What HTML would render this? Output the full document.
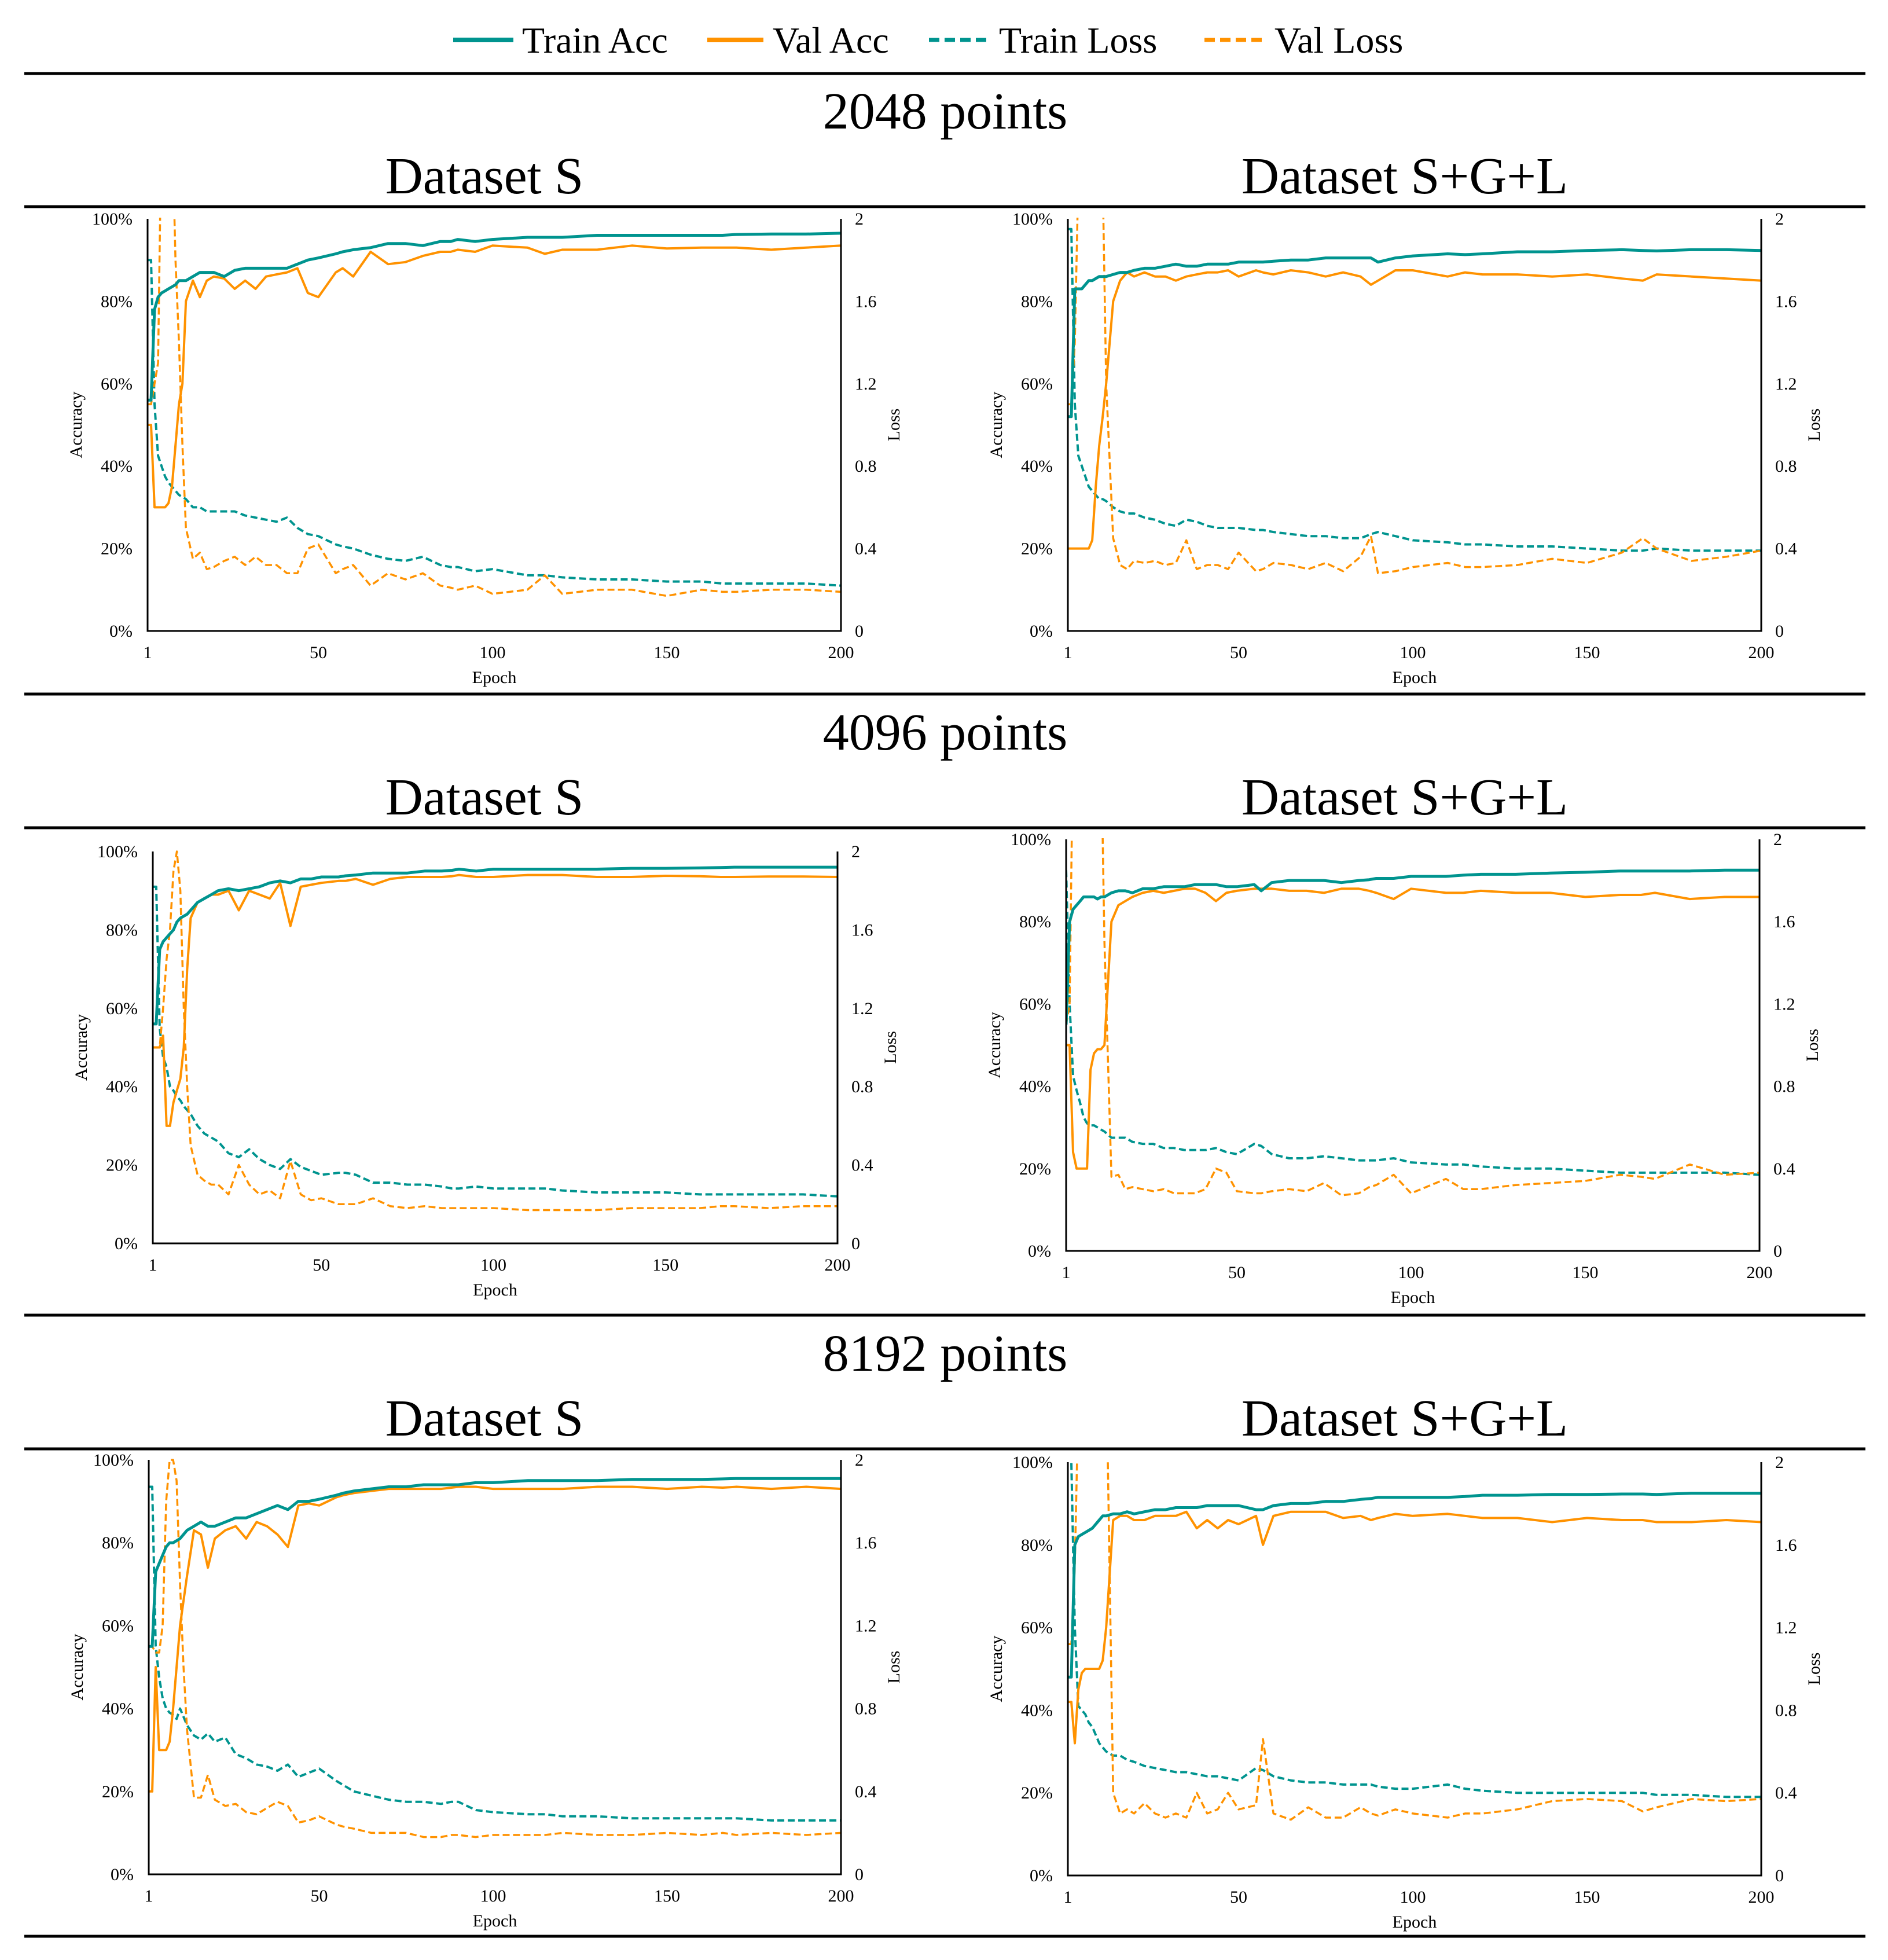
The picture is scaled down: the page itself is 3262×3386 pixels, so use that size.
<!DOCTYPE html>
<html><head><meta charset="utf-8">
<style>
html,body{margin:0;padding:0;background:#fff;}
svg{display:block;font-family:"Liberation Serif",serif;}
</style></head>
<body>
<svg id="fig" width="3262" height="3386" viewBox="0 0 3262 3386" xmlns="http://www.w3.org/2000/svg">
<rect width="3262" height="3386" fill="#fff"/>
<g id="legend">
 <g><line x1="783" y1="69" x2="887" y2="69" stroke="#00948F" stroke-width="8"/><text x="902" y="91" font-size="64">Train Acc</text></g>
 <g><line x1="1222" y1="69" x2="1319" y2="69" stroke="#FF9200" stroke-width="8"/><text x="1335" y="91" font-size="64">Val Acc</text></g>
 <g><line x1="1605" y1="69" x2="1709" y2="69" stroke="#00948F" stroke-width="7" stroke-dasharray="18 9"/><text x="1726" y="91" font-size="64">Train Loss</text></g>
 <g><line x1="2081" y1="69" x2="2185" y2="69" stroke="#FF9200" stroke-width="7" stroke-dasharray="18 9"/><text x="2202" y="91" font-size="64">Val Loss</text></g>
</g>
<g id="charts"></g>
</svg>
<script>
const epochs = [1,2,3,4,5,6,7,8,9,10,11,12,14,16,18,20,23,26,29,32,35,38,41,44,47,50,55,57,60,65,70,75,80,85,88,90,95,100,110,115,120,130,140,150,160,166,170,180,190,200];
const accTicks = ["0%","20%","40%","60%","80%","100%"];
const lossTicks = ["0","0.4","0.8","1.2","1.6","2"];
const epochTicks = [1,50,100,150,200];
const sectionTitles = ["2048 points","4096 points","8192 points"];
const datasetTitles = ["Dataset S","Dataset S+G+L"];

const c1TrainAcc = [56,56,78,81,82,82.5,83,83.5,84,85,85,85,86,87,87,87,86,87.5,88,88,88,88,88,89,90,90.5,91.5,92,92.5,93,94,94,93.5,94.5,94.5,95,94.5,95,95.5,95.5,95.5,96,96,96,96,96,96.2,96.3,96.3,96.5];
const c1ValAcc = [50,50,30,30,30,30,31,35,45,55,60,80,85,81,85,86,85.5,83,85,83,86,86.5,87,88,82,81,87,88,86,92,89,89.5,91,92,92,92.5,92,93.5,93,91.5,92.5,92.5,93.5,92.8,93,93,93,92.5,93,93.5];
const c1TrainLoss = [1.8,1.8,1.1,0.85,0.8,0.75,0.72,0.7,0.68,0.66,0.65,0.64,0.6,0.6,0.58,0.58,0.58,0.58,0.56,0.55,0.54,0.53,0.55,0.5,0.47,0.46,0.42,0.41,0.4,0.37,0.35,0.34,0.36,0.32,0.31,0.31,0.29,0.3,0.27,0.27,0.26,0.25,0.25,0.24,0.24,0.23,0.23,0.23,0.23,0.22];
const c1ValLoss = [1.1,1.1,1.2,1.3,2.5,2.5,2.5,2.5,1.8,1.4,0.9,0.5,0.35,0.38,0.3,0.31,0.34,0.36,0.32,0.36,0.32,0.32,0.28,0.28,0.4,0.42,0.28,0.3,0.32,0.22,0.28,0.25,0.28,0.22,0.21,0.2,0.22,0.18,0.2,0.27,0.18,0.2,0.2,0.17,0.2,0.19,0.19,0.2,0.2,0.19];

const c2TrainAcc = [52,52,83,83,83,84,85,85,85.5,86,86,86,86.5,87,87,87.5,88,88,88.5,89,88.5,88.5,89,89,89,89.5,89.5,89.5,89.7,90,90,90.5,90.5,90.5,90.5,89.5,90.5,91,91.5,91.3,91.5,92,92,92.3,92.5,92.3,92.2,92.5,92.5,92.3];
const c2ValAcc = [20,20,20,20,20,20,20,22,35,45,52,60,80,85,87,86,87,86,86,85,86,86.5,87,87,87.5,86,87.5,87,86.5,87.5,87,86,87,86,84,85,87.5,87.5,86,87,86.5,86.5,86,86.5,85.5,85,86.5,86,85.5,85];
const c2TrainLoss = [1.95,1.95,1.1,0.85,0.8,0.75,0.7,0.68,0.66,0.64,0.64,0.63,0.6,0.58,0.57,0.57,0.55,0.54,0.52,0.51,0.54,0.53,0.51,0.5,0.5,0.5,0.49,0.49,0.48,0.47,0.46,0.46,0.45,0.45,0.47,0.48,0.46,0.44,0.43,0.42,0.42,0.41,0.41,0.4,0.39,0.39,0.4,0.39,0.39,0.39];
const c2ValLoss = [1.1,1.1,1.4,2.2,2.5,2.5,2.5,2.5,2.5,2.5,2.2,1.2,0.45,0.32,0.3,0.34,0.33,0.34,0.32,0.33,0.44,0.3,0.32,0.32,0.3,0.38,0.29,0.3,0.33,0.32,0.3,0.33,0.29,0.36,0.46,0.28,0.29,0.31,0.33,0.31,0.31,0.32,0.35,0.33,0.38,0.45,0.4,0.34,0.36,0.39];

const c3TrainAcc = [56,56,75,77,78,79,80,82,83,83.5,84,85,87,88,89,90,90.5,90,90.5,91,92,92.5,92,93,93,93.5,93.5,93.8,94,94.5,94.5,94.5,95,95,95.2,95.5,95,95.5,95.5,95.5,95.5,95.5,95.7,95.7,95.8,95.9,96,96,96,96];
const c3ValAcc = [50,50,50,53,30,30,36,39,42,50,70,83,87,88,89,89,90,85,90,89,88,92,81,91,91.5,92,92.5,92.5,93,91.5,93,93.5,93.5,93.5,93.7,94,93.5,93.5,94,94,94,93.5,93.5,93.8,93.7,93.5,93.5,93.6,93.6,93.5];
const c3TrainLoss = [1.82,1.82,1.1,0.95,0.9,0.8,0.78,0.75,0.73,0.7,0.68,0.66,0.6,0.56,0.54,0.52,0.46,0.44,0.48,0.43,0.4,0.38,0.43,0.39,0.37,0.35,0.36,0.36,0.35,0.31,0.31,0.3,0.3,0.29,0.28,0.28,0.29,0.28,0.28,0.28,0.27,0.26,0.26,0.26,0.25,0.25,0.25,0.25,0.25,0.24];
const c3ValLoss = [1.0,1.0,1.0,1.2,1.45,1.6,1.9,2.0,1.8,1.2,0.8,0.5,0.35,0.32,0.3,0.3,0.25,0.4,0.3,0.25,0.27,0.23,0.42,0.25,0.22,0.23,0.2,0.2,0.2,0.23,0.19,0.18,0.19,0.18,0.18,0.18,0.18,0.18,0.17,0.17,0.17,0.17,0.18,0.18,0.18,0.19,0.19,0.18,0.19,0.19];

const c4TrainAcc = [55,80,83,84,85,86,86,86,86,85.5,86,86,87,87.5,87.5,87,88,88,88.5,88.5,88.5,89,89,89,88.5,88.5,89,87.5,89.5,90,90,90,89.5,90,90.2,90.5,90.5,91,91,91.3,91.5,91.5,91.8,92,92.3,92.3,92.3,92.3,92.5,92.5];
const c4ValAcc = [50,50,24,20,20,20,20,44,48,49,49,50,80,84,85,86,87,87.5,87,87.5,88,88,87,85,87,87.5,88,88,88,87.5,87.5,87,88,88,87.5,87,85.5,88,87,87,87.5,87,87,86,86.5,86.5,87,85.5,86,86];
const c4TrainLoss = [1.85,1.2,0.85,0.78,0.72,0.65,0.62,0.61,0.61,0.6,0.59,0.58,0.55,0.55,0.55,0.53,0.52,0.52,0.5,0.5,0.49,0.49,0.49,0.5,0.48,0.47,0.52,0.51,0.47,0.45,0.45,0.46,0.45,0.44,0.44,0.44,0.45,0.43,0.42,0.42,0.41,0.4,0.4,0.39,0.38,0.38,0.38,0.38,0.38,0.37];
const c4ValLoss = [1.1,1.2,2.5,2.5,2.5,2.5,2.5,2.5,2.5,2.5,2.5,1.5,0.36,0.37,0.3,0.31,0.3,0.29,0.3,0.28,0.28,0.28,0.3,0.4,0.38,0.29,0.28,0.28,0.29,0.3,0.29,0.33,0.27,0.28,0.31,0.32,0.37,0.28,0.35,0.3,0.3,0.32,0.33,0.34,0.37,0.36,0.35,0.42,0.37,0.38];

const c5TrainAcc = [55,55,73,75,77,79,80,80,80.5,81,82,83,84,85,84,84,85,86,86,87,88,89,88,90,90,90.5,91.5,92,92.5,93,93.5,93.5,94,94,94,94,94.5,94.5,95,95,95,95,95.3,95.3,95.3,95.4,95.5,95.5,95.5,95.5];
const c5ValAcc = [20,20,50,30,30,30,32,40,50,60,66,72,83,82,74,81,83,84,81,85,84,82,79,89,89.5,89,91,91.5,92,92.5,93,93,93,93,93.3,93.5,93.5,93,93,93,93,93.5,93.5,93,93.5,93.3,93.5,93,93.5,93];
const c5TrainLoss = [1.87,1.87,1.1,0.95,0.85,0.8,0.78,0.77,0.75,0.8,0.76,0.72,0.67,0.65,0.68,0.64,0.66,0.58,0.56,0.53,0.52,0.5,0.53,0.47,0.49,0.51,0.45,0.43,0.4,0.38,0.36,0.35,0.35,0.34,0.35,0.35,0.31,0.3,0.29,0.29,0.28,0.28,0.27,0.27,0.27,0.27,0.27,0.26,0.26,0.26];
const c5ValLoss = [1.1,1.1,1.07,1.07,1.2,1.8,2.0,2.0,1.9,1.4,1.0,0.7,0.37,0.37,0.48,0.36,0.33,0.34,0.3,0.29,0.32,0.35,0.33,0.25,0.26,0.28,0.24,0.23,0.22,0.2,0.2,0.2,0.18,0.18,0.19,0.19,0.18,0.19,0.19,0.19,0.2,0.19,0.19,0.2,0.19,0.2,0.19,0.2,0.19,0.2];

const c6TrainAcc = [48,48,80,82,82.5,83,83.5,84,85,86,87,87,87.5,87.5,88,87.5,88,88.5,88.5,89,89,89,89.5,89.5,89.5,89.5,88.5,88.5,89.5,90,90,90.5,90.5,91,91.2,91.5,91.5,91.5,91.5,91.7,92,92,92.2,92.2,92.3,92.3,92.2,92.5,92.5,92.5];
const c6ValAcc = [42,42,32,45,49,50,50,50,50,50,52,60,86,87,87,86,86,87,87,87,88,84,86,84,86,85,87,80,87,88,88,88,86.5,87,86,86.5,87.5,87,87.5,87,86.5,86.5,85.5,86.5,86,86,85.5,85.5,86,85.5];
const c6TrainLoss = [2.5,2.0,1.2,0.82,0.8,0.78,0.74,0.72,0.68,0.64,0.62,0.6,0.58,0.58,0.56,0.55,0.53,0.52,0.51,0.5,0.5,0.49,0.48,0.48,0.47,0.46,0.52,0.51,0.48,0.46,0.45,0.45,0.44,0.44,0.44,0.43,0.42,0.42,0.44,0.42,0.41,0.4,0.4,0.4,0.4,0.4,0.39,0.39,0.38,0.38];
const c6ValLoss = [1.12,1.12,1.5,2.3,2.5,2.5,2.5,2.5,2.5,2.5,2.5,2.5,0.4,0.3,0.32,0.3,0.35,0.3,0.28,0.3,0.28,0.4,0.3,0.32,0.4,0.32,0.34,0.66,0.3,0.27,0.33,0.28,0.28,0.33,0.3,0.29,0.32,0.3,0.28,0.3,0.3,0.32,0.36,0.37,0.36,0.31,0.33,0.37,0.36,0.37];

const chartSeries = [
 [c1TrainAcc,c1ValAcc,c1TrainLoss,c1ValLoss],
 [c2TrainAcc,c2ValAcc,c2TrainLoss,c2ValLoss],
 [c3TrainAcc,c3ValAcc,c3TrainLoss,c3ValLoss],
 [c4TrainAcc,c4ValAcc,c4TrainLoss,c4ValLoss],
 [c5TrainAcc,c5ValAcc,c5TrainLoss,c5ValLoss],
 [c6TrainAcc,c6ValAcc,c6TrainLoss,c6ValLoss]
];
// layout boxes (pixels) — not data
const boxes = [
 {l:255,r:1453,t:378,b:1090},{l:1845,r:3043,t:378,b:1090},
 {l:264,r:1447,t:1471,b:2148},{l:1842,r:3040,t:1450,b:2161},
 {l:257,r:1453,t:2522,b:3238},{l:1845,r:3043,t:2526,b:3240}
];
const NS="http://www.w3.org/2000/svg";
const root=document.getElementById('charts');
function mk(tag,attrs,parent){const e=document.createElementNS(NS,tag);for(const k in attrs)e.setAttribute(k,attrs[k]);(parent||root).appendChild(e);return e;}
const TEAL="#00948F",ORANGE="#FF9200";

// section rules & titles
for(let s=0;s<3;s++){
 const off=s*1073;
 const top=(s===0)?127:null;
 if(s===0){const r0=mk('line',{x1:42,y1:127,x2:3223,y2:127,stroke:'#000','stroke-width':5});
  
  }
 const r1=mk('line',{x1:42,y1:357+off,x2:3223,y2:357+off,stroke:'#000','stroke-width':5});
 
 
 const r2=mk('line',{x1:42,y1:1199+off,x2:3223,y2:1199+off,stroke:'#000','stroke-width':5});
 
 
 const t=mk('text',{x:1633,y:222+off,'font-size':90,'text-anchor':'middle'});
 t.textContent=sectionTitles[s];
 
 
 for(let d=0;d<2;d++){
  const dt=mk('text',{x:d?2427:837,y:334+off,'font-size':90,'text-anchor':'middle'});
  dt.textContent=datasetTitles[d];
  
  
 }
}

boxes.forEach((B,ci)=>{
 const g=mk('g',{});
 
 
 const xS=e=>B.l+(e-1)/199*(B.r-B.l);
 const yAcc=v=>B.b-v/100*(B.b-B.t);
 const yLoss=v=>B.b-v/2*(B.b-B.t);
 const cid='clip'+ci;
 const cp=mk('clipPath',{id:cid},g);
 mk('rect',{x:B.l,y:B.t-2,width:B.r-B.l,height:B.b-B.t+2},cp);
 // ticks labels
 accTicks.forEach((lab,i)=>{
  const y=B.b-i/5*(B.b-B.t);
  const t=mk('text',{x:B.l-26,y:y+10,'font-size':30,'text-anchor':'end'},g);
  t.textContent=lab;
  
  
 });
 lossTicks.forEach((lab,i)=>{
  const y=B.b-i/5*(B.b-B.t);
  const t=mk('text',{x:B.r+24,y:y+10,'font-size':30,'text-anchor':'start'},g);
  t.textContent=lab;
  
  
 });
 epochTicks.forEach(e=>{
  const t=mk('text',{x:xS(e),y:B.b+47,'font-size':30,'text-anchor':'middle'},g);
  t.textContent=String(e);
  
  
 });
 const ex=mk('text',{x:(B.l+B.r)/2,y:B.b+90,'font-size':30,'text-anchor':'middle'},g);
 ex.textContent='Epoch';
 
 
 const cy=(B.t+B.b)/2;
 const ay=mk('text',{x:B.l-124,y:cy,'font-size':30,'text-anchor':'middle',transform:`rotate(-90 ${B.l-124} ${cy})`,dy:'10'},g);
 ay.textContent='Accuracy';
 
 
 const ly=mk('text',{x:B.r+91,y:cy,'font-size':30,'text-anchor':'middle',transform:`rotate(-90 ${B.r+91} ${cy})`,dy:'10'},g);
 ly.textContent='Loss';
 
 
 // series
 const [ta,va,tl,vl]=chartSeries[ci];
 const specs=[[tl,yLoss,TEAL,4,'12 6','train-loss-line'],[vl,yLoss,ORANGE,3.5,'12 6','val-loss-line'],[va,yAcc,ORANGE,4,null,'val-acc-line'],[ta,yAcc,TEAL,5,null,'train-acc-line']];
 specs.forEach(([arr,yf,col,w,dash,name])=>{
  const pts=arr.map((v,i)=>xS(epochs[i]).toFixed(1)+','+yf(v).toFixed(1)).join(' ');
  const a={points:pts,fill:'none',stroke:col,'stroke-width':w,'stroke-linejoin':'round','clip-path':`url(#${cid})`};
  if(dash)a['stroke-dasharray']=dash;
  const p=mk('polyline',a,g);
  
  
 });
 // axes
 const ax=mk('path',{d:`M${B.l},${B.t} V${B.b} H${B.r} V${B.t}`,fill:'none',stroke:'#000','stroke-width':3},g);
 
 
});
</script>
</body></html>
